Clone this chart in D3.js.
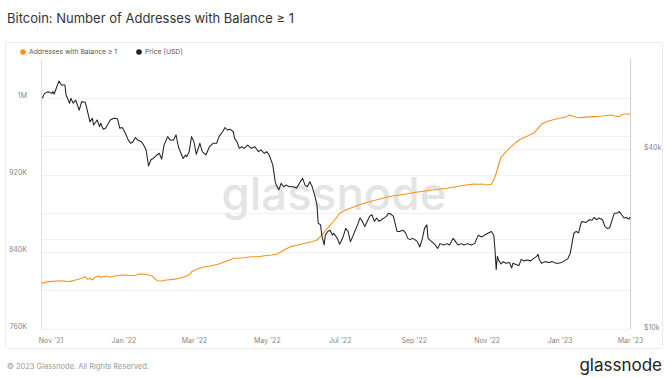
<!DOCTYPE html>
<html>
<head>
<meta charset="utf-8">
<script src="https://cdn.jsdelivr.net/npm/d3@7"></script>
<style>
  html, body { margin: 0; padding: 0; background: #fff; }
  svg { display: block; font-family: Inter, "Open Sans", sans-serif; }
</style>
</head>
<body>
<div id="chart"></div>
<script>
// values
const addrDates = ["2021-10-24","2021-10-31","2021-11-08","2021-11-17","2021-11-22","2021-11-27","2021-11-30","2021-12-02","2021-12-04","2021-12-06","2021-12-08","2021-12-11","2021-12-13","2021-12-15","2021-12-18","2021-12-21","2021-12-25","2021-12-29",
  "2022-01-03","2022-01-10","2022-01-14","2022-01-20","2022-01-25","2022-01-27","2022-01-29","2022-02-02","2022-02-06","2022-02-12","2022-02-17","2022-02-23","2022-02-26","2022-02-27",
  "2022-03-04","2022-03-10","2022-03-16","2022-03-21","2022-03-27","2022-03-31","2022-04-03","2022-04-07","2022-04-12","2022-04-18","2022-04-24","2022-04-29","2022-05-05","2022-05-09","2022-05-13","2022-05-17","2022-05-21","2022-05-27",
  "2022-06-02","2022-06-08","2022-06-12","2022-06-15","2022-06-18","2022-06-22","2022-06-26","2022-06-28","2022-07-01","2022-07-06","2022-07-12","2022-07-17","2022-07-23","2022-07-29","2022-08-03","2022-08-09","2022-08-14","2022-08-20","2022-08-26","2022-08-31",
  "2022-09-06","2022-09-12","2022-09-17","2022-09-23","2022-09-29","2022-10-04","2022-10-10","2022-10-15","2022-10-21","2022-10-25","2022-10-29","2022-11-01","2022-11-05","2022-11-07","2022-11-09","2022-11-11","2022-11-13","2022-11-16","2022-11-20","2022-11-24","2022-11-28",
  "2022-12-03","2022-12-07","2022-12-11","2022-12-14","2022-12-17","2022-12-21","2022-12-26","2023-01-01","2023-01-07","2023-01-09","2023-01-12","2023-01-16","2023-01-21","2023-01-29","2023-02-06","2023-02-13","2023-02-16","2023-02-20","2023-02-23","2023-03-01"];
const addrCount = [807.4,809.1,810.1,809.1,810.8,812.6,814.2,811.5,812.6,810.8,813.6,815.0,813.6,814.2,815.0,813.6,815.0,815.7,
  816.0,815.3,817.0,816.7,815.0,812.6,810.1,809.8,810.8,811.5,812.6,815.0,817.0,819.4,
  822.2,824.6,825.6,827.1,829.8,831.6,833.3,833.3,833.9,835.0,835.0,836.0,836.7,837.5,840.2,843.0,845.4,847.1,
  848.9,850.5,852.3,855.7,860.3,866.1,872.0,874.8,880.0,883.4,886.2,888.6,891.0,893.0,894.5,896.6,897.9,899.0,900.0,901.3,
  902.4,903.4,904.1,905.2,905.9,907.0,908.3,909.3,910.4,910.1,910.4,909.3,910.1,914.5,921.5,930.1,938.1,942.2,947.4,951.8,956.0,
  958.8,961.2,963.6,968.1,972.6,975.0,976.7,978.5,980.2,981.9,980.9,979.1,979.5,980.2,980.9,981.9,980.9,980.2,982.7,983.0].map(v => v * 1000);

const priceDates = ["2021-10-25","2021-10-27","2021-10-30","2021-11-02","2021-11-03","2021-11-04","2021-11-08","2021-11-10","2021-11-13","2021-11-14","2021-11-17","2021-11-18","2021-11-20","2021-11-22","2021-11-25","2021-11-27","2021-11-30",
  "2021-12-01","2021-12-04","2021-12-06","2021-12-07","2021-12-10","2021-12-12","2021-12-13","2021-12-15","2021-12-17","2021-12-21","2021-12-24","2021-12-27","2021-12-29","2021-12-31",
  "2022-01-02","2022-01-05","2022-01-07","2022-01-09","2022-01-11","2022-01-13","2022-01-16","2022-01-18","2022-01-20","2022-01-22","2022-01-24","2022-01-26","2022-01-29","2022-01-31",
  "2022-02-02","2022-02-04","2022-02-07","2022-02-09","2022-02-12","2022-02-14","2022-02-16","2022-02-17","2022-02-20","2022-02-22","2022-02-23","2022-02-25","2022-02-27",
  "2022-03-01","2022-03-03","2022-03-06","2022-03-08","2022-03-11","2022-03-14","2022-03-17","2022-03-20","2022-03-22","2022-03-25","2022-03-27","2022-03-29","2022-03-31",
  "2022-04-03","2022-04-04","2022-04-06","2022-04-08","2022-04-10","2022-04-12","2022-04-15","2022-04-18","2022-04-21","2022-04-24","2022-04-26","2022-04-29",
  "2022-05-01","2022-05-03","2022-05-05","2022-05-06","2022-05-08","2022-05-09","2022-05-11","2022-05-13","2022-05-15","2022-05-17","2022-05-20","2022-05-23","2022-05-26","2022-05-29","2022-05-31",
  "2022-06-02","2022-06-04","2022-06-06","2022-06-08","2022-06-10","2022-06-12","2022-06-13","2022-06-15","2022-06-16","2022-06-18","2022-06-19","2022-06-21","2022-06-23","2022-06-25","2022-06-26","2022-06-29",
  "2022-07-01","2022-07-04","2022-07-06","2022-07-08","2022-07-10","2022-07-12","2022-07-14","2022-07-16","2022-07-18","2022-07-20","2022-07-22","2022-07-24","2022-07-26","2022-07-28","2022-07-30",
  "2022-08-01","2022-08-03","2022-08-05","2022-08-07","2022-08-09","2022-08-11","2022-08-13","2022-08-15","2022-08-16","2022-08-18","2022-08-20","2022-08-23","2022-08-25","2022-08-27","2022-08-29","2022-08-31",
  "2022-09-02","2022-09-04","2022-09-06","2022-09-08","2022-09-10","2022-09-12","2022-09-13","2022-09-16","2022-09-19","2022-09-21","2022-09-23","2022-09-26","2022-09-29",
  "2022-10-01","2022-10-04","2022-10-06","2022-10-08","2022-10-11","2022-10-13","2022-10-16","2022-10-19","2022-10-22","2022-10-25","2022-10-28","2022-10-30",
  "2022-11-02","2022-11-05","2022-11-07","2022-11-08","2022-11-09","2022-11-10","2022-11-11","2022-11-13","2022-11-15","2022-11-17","2022-11-20","2022-11-22","2022-11-23","2022-11-26","2022-11-28","2022-11-30",
  "2022-12-02","2022-12-05","2022-12-08","2022-12-10","2022-12-13","2022-12-14","2022-12-15","2022-12-17","2022-12-20","2022-12-23","2022-12-26","2022-12-29","2022-12-31",
  "2023-01-03","2023-01-05","2023-01-08","2023-01-10","2023-01-12","2023-01-13","2023-01-15","2023-01-17","2023-01-19","2023-01-20","2023-01-23","2023-01-26","2023-01-28","2023-01-30",
  "2023-02-01","2023-02-03","2023-02-06","2023-02-08","2023-02-10","2023-02-12","2023-02-15","2023-02-16","2023-02-18","2023-02-20","2023-02-22","2023-02-24","2023-02-26","2023-02-28","2023-03-01"];
const priceUsd = [59.1,61.4,62.2,61.4,62.2,61.1,67.5,65.5,65.5,60.6,56.9,59.1,56.9,58.3,54.0,57.6,57.3,
  55.4,49.3,50.7,48.1,50.0,47.5,48.8,46.6,46.9,50.0,50.7,50.5,46.9,47.2,
  45.7,42.9,41.8,42.3,43.7,42.9,42.3,41.2,39.7,35.1,36.8,37.2,38.2,38.7,
  37.0,41.2,44.0,42.9,42.9,44.6,40.7,39.7,37.2,38.2,37.7,39.2,44.0,
  42.3,38.4,41.8,39.2,38.2,40.7,41.8,41.8,44.0,45.7,47.2,46.3,46.6,
  45.7,43.4,42.3,40.2,40.7,40.2,41.2,40.2,40.7,39.2,39.7,38.7,
  39.2,38.2,36.3,35.4,31.1,30.3,29.2,30.7,29.9,30.3,29.9,29.9,29.6,31.1,31.9,
  30.3,29.9,31.1,29.9,28.1,26.0,22.6,22.3,20.6,19.1,20.6,21.2,21.4,20.6,20.9,20.1,
  19.2,20.4,21.7,21.2,19.6,20.4,21.4,22.3,23.5,22.9,22.0,22.9,23.8,24.1,22.9,
  23.5,22.9,23.2,23.5,23.8,24.4,24.2,23.8,22.9,21.2,21.2,21.4,21.0,20.1,19.9,20.1,
  19.9,19.6,18.8,19.9,21.7,22.3,20.1,19.6,19.1,18.6,19.3,19.1,19.3,
  19.1,20.1,19.6,19.1,19.3,19.1,19.3,19.1,19.3,20.6,20.3,20.6,
  20.9,21.2,20.6,18.4,15.8,17.5,17.0,16.5,16.8,16.6,16.7,16.0,16.6,16.4,16.3,17.1,
  16.9,17.0,16.9,17.2,17.5,17.8,17.1,16.6,16.8,16.7,16.8,16.6,16.6,
  16.7,16.9,17.2,17.9,19.9,20.9,21.2,21.0,22.6,22.9,22.7,23.2,23.1,23.6,
  23.2,23.5,23.2,22.0,21.7,21.8,23.8,24.4,24.4,24.7,24.1,23.5,23.6,23.3,23.7].map(v => v * 1000);

const xDomain = ["2021-10-24", "2023-03-01"];
const xTickDates = ["2021-11-01","2022-01-01","2022-03-01","2022-05-01","2022-07-01","2022-09-01","2022-11-01","2023-01-01","2023-03-01"];
const addrDomain = [760000, 1040000];
const addrGrid = [760000, 800000, 840000, 880000, 920000, 960000, 1000000];
const addrTicks = [760000, 840000, 920000, 1000000];
const priceDomain = [10000, 80000];
const priceGrid = [10000, 20000, 40000];
const priceTicks = [10000, 40000];

const width = 670, height = 378;
const plot = { left: 41, right: 630, top: 59, bottom: 329 };
const orange = "#f7931a", dark = "#222";
const parse = d3.utcParse("%Y-%m-%d");

const x = d3.scaleUtc().domain(xDomain.map(parse)).range([plot.left, plot.right]);
const yA = d3.scaleLinear().domain(addrDomain).range([plot.bottom, plot.top]);
const yP = d3.scaleLog().domain(priceDomain).range([plot.bottom, plot.top]);

const svg = d3.select("#chart").append("svg")
    .attr("width", width)
    .attr("height", height)
    .attr("viewBox", [0, 0, width, height]);

svg.append("text")
    .attr("x", 7).attr("y", 23)
    .attr("font-size", 13).attr("fill", "#333")
    .text("Bitcoin: Number of Addresses with Balance ≥ 1");

// panel
svg.append("rect")
    .attr("x", 5.5).attr("y", 42.5).attr("width", 657).attr("height", 306)
    .attr("rx", 2)
    .attr("fill", "#fff").attr("stroke", "#ececec");

// legend
const legend = svg.append("g").attr("font-size", 6.8).attr("fill", "#555");
[["Addresses with Balance ≥ 1", orange, 23], ["Price [USD]", dark, 139]].forEach(([name, col, lx]) => {
  legend.append("circle").attr("cx", lx).attr("cy", 52).attr("r", 2.8).attr("fill", col);
  legend.append("text").attr("x", lx + 6).attr("y", 54.4).text(name);
});

// grid
const grid = svg.append("g").attr("stroke", "#f1f1f1").attr("stroke-width", 1);
grid.selectAll(".ga").data(addrGrid).join("line")
    .attr("x1", plot.left).attr("x2", plot.right)
    .attr("y1", d => Math.round(yA(d)) + 0.5).attr("y2", d => Math.round(yA(d)) + 0.5);
grid.selectAll(".gp").data(priceGrid).join("line")
    .attr("x1", plot.left).attr("x2", plot.right)
    .attr("y1", d => Math.round(yP(d)) + 0.5).attr("y2", d => Math.round(yP(d)) + 0.5);

// watermark
const wm = svg.append("text")
    .attr("x", 334).attr("y", 210)
    .attr("text-anchor", "middle")
    .attr("font-size", 50).attr("font-weight", 500)
    .attr("fill", "#e4e4e4")
    .text("glassnode");
const wmLen = wm.node().getComputedTextLength();
wm.attr("font-size", 50 * 225 / wmLen);

// axes
const fmtAddr = v => v >= 1e6 ? (v / 1e6) + "M" : (v / 1e3) + "K";
const axisStyle = g => {
  g.select(".domain").remove();
  g.selectAll(".tick line").remove();
  g.selectAll("text").attr("fill", "#888").attr("font-size", 7).attr("font-family", "Inter, sans-serif");
};

svg.append("g")
    .attr("transform", `translate(${plot.left},-2.5)`)
    .call(d3.axisLeft(yA).tickValues(addrTicks).tickFormat(fmtAddr).tickPadding(8))
    .call(axisStyle);

svg.append("g")
    .attr("transform", `translate(${plot.right},-2)`)
    .call(d3.axisRight(yP).tickValues(priceTicks).tickFormat(d => "$" + d / 1000 + "k").tickPadding(8))
    .call(axisStyle);

svg.append("g")
    .attr("transform", `translate(0,${plot.bottom})`)
    .call(d3.axisBottom(x).tickValues(xTickDates.map(parse)).tickFormat(d3.utcFormat("%b '%y")).tickPadding(3))
    .call(axisStyle);

svg.append("line")
    .attr("x1", plot.left + 0.5).attr("x2", plot.left + 0.5)
    .attr("y1", plot.top).attr("y2", plot.bottom)
    .attr("stroke", "#f6dcb2");
svg.append("line")
    .attr("x1", plot.right + 0.5).attr("x2", plot.right + 0.5)
    .attr("y1", plot.top).attr("y2", plot.bottom)
    .attr("stroke", "#cfcfcf");

// series
const addrLine = d3.line()
    .x((d, i) => x(parse(addrDates[i])))
    .y(d => yA(d));
svg.append("path")
    .datum(addrCount)
    .attr("fill", "none").attr("stroke", orange).attr("stroke-width", 1.1)
    .attr("stroke-linejoin", "round")
    .attr("d", addrLine);

const priceLine = d3.line()
    .x((d, i) => x(parse(priceDates[i])))
    .y(d => yP(d));
svg.append("path")
    .datum(priceUsd)
    .attr("fill", "none").attr("stroke", dark).attr("stroke-width", 1.05)
    .attr("stroke-linejoin", "round")
    .attr("d", priceLine);

// footer
svg.append("text")
    .attr("x", 7).attr("y", 369)
    .attr("font-size", 7.5).attr("fill", "#999")
    .text("© 2023 Glassnode. All Rights Reserved.");
svg.append("text")
    .attr("x", 662).attr("y", 371)
    .attr("text-anchor", "end")
    .attr("font-size", 17).attr("fill", "#222")
    .text("glassnode");
</script>
</body>
</html>
